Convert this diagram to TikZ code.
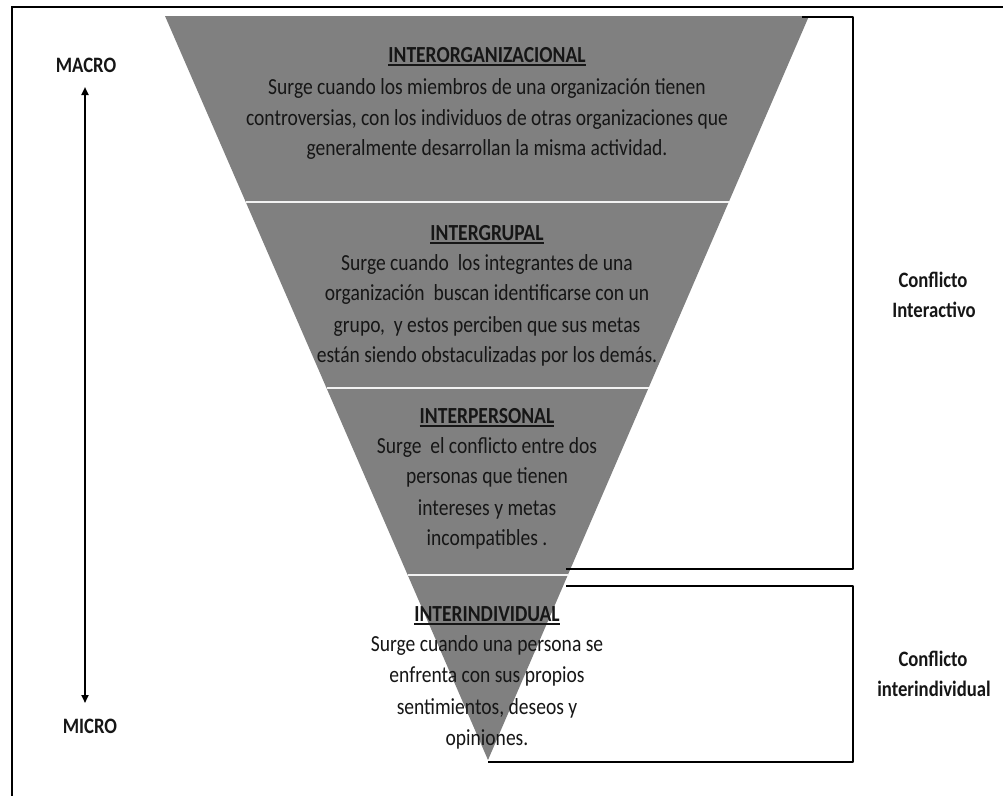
\documentclass[tikz,border=0pt]{standalone}
\usepackage{fontspec}
\setmainfont{Carlito}[FakeStretch=0.85]
\usetikzlibrary{calc,arrows.meta}
\definecolor{tri}{RGB}{128,128,128}
\definecolor{ink}{RGB}{22,22,22}
\tikzset{
  body/.style={anchor=base, inner sep=0pt, text=ink, font=\fontsize{23}{31}\selectfont},
  ttl/.style={anchor=base, inner sep=0pt, text=ink, font=\fontsize{23}{31}\selectfont\bfseries},
  side/.style={anchor=base, inner sep=0pt, text=ink, font=\fontsize{22}{30}\selectfont\bfseries},
  uline/.style={draw=ink, line width=1.7pt},
  divider/.style={draw=white!90!tri, line width=2pt},
  bracket/.style={draw=black, line width=2.8pt, line join=round},
  frame/.style={draw=black, line width=2.5pt},
  scalearrow/.style={draw=black, line width=2pt, {Triangle[length=8pt,width=7pt]}-{Triangle[length=8pt,width=7pt]}},
}
\begin{document}
\begin{tikzpicture}[x=1pt,y=-1pt]
\useasboundingbox (0,0) rectangle (1003,795);
\fill[white] (0,0) rectangle (1003,795);
% outer frame (runs off the right and bottom edges)
\coordinate (fb) at (12,805);
\coordinate (fc) at (12,7);
\coordinate (fr) at (1012,7);
\draw[frame] (fb) -- (fc) -- (fr);
% inverted triangle
\coordinate (tl) at (165,16);
\coordinate (tr) at (809,16);
\coordinate (ap) at (488,760);
\fill[tri] (tl) -- (tr) -- (ap) -- cycle;
\draw[divider] ($(tl)!0.25!(ap)$) -- ($(tr)!0.25!(ap)$);
\draw[divider] ($(tl)!0.5!(ap)$) -- ($(tr)!0.5!(ap)$);
\draw[divider] ($(tl)!0.7513!(ap)$) -- ($(tr)!0.7513!(ap)$);
% brackets
\coordinate (b1a) at (802,17);
\coordinate (b1b) at (853,17);
\coordinate (b1c) at (853,569);
\coordinate (b1d) at (566,569);
\draw[bracket] (b1a) -- (b1b) -- (b1c) -- (b1d);
\coordinate (b2a) at (566,586);
\coordinate (b2b) at (853,586);
\coordinate (b2c) at (853,762);
\coordinate (b2d) at (488,762);
\draw[bracket] (b2a) -- (b2b) -- (b2c) -- (b2d);
% MACRO / MICRO scale
\node[side] (macro) at (86,72) {MACRO};
\node[side] (micro) at (90,733) {MICRO};
\coordinate (aT) at (85,87);
\coordinate (aB) at (85,703);
\draw[scalearrow] (aT) -- (aB);
% side labels
\node[side] (ci1) at (933,287) {Conflicto};
\node[side] (ci2) at (934,317) {Interactivo};
\node[side] (cj1) at (933,666) {Conflicto};
\node[side] (cj2) at (934,696) {interindividual};
% INTERORGANIZACIONAL
\node[ttl] (t1) at (487,62) {INTERORGANIZACIONAL};
\draw[uline] ([yshift=-3pt]t1.base west) -- ([yshift=-3pt]t1.base east);
\node[body] (o1) at (487,94) {Surge cuando los miembros de una organización tienen};
\node[body] (o2) at (487,125) {controversias, con los individuos de otras organizaciones que};
\node[body] (o3) at (487,155) {generalmente desarrollan la misma actividad.};
% INTERGRUPAL
\node[ttl] (t2) at (487,240) {INTERGRUPAL};
\draw[uline] ([yshift=-3pt]t2.base west) -- ([yshift=-3pt]t2.base east);
\node[body] (g1) at (487,270) {Surge cuando\ \ los integrantes de una};
\node[body] (g2) at (487,300) {organización\ \ buscan identificarse con un};
\node[body] (g3) at (487,332) {grupo,\ \ y estos perciben que sus metas};
\node[body] (g4) at (487,362) {están siendo obstaculizadas por los demás.};
% INTERPERSONAL
\node[ttl] (t3) at (487,423) {INTERPERSONAL};
\draw[uline] ([yshift=-3pt]t3.base west) -- ([yshift=-3pt]t3.base east);
\node[body] (p1) at (487,453) {Surge\ \ el conflicto entre dos};
\node[body] (p2) at (487,483) {personas que tienen};
\node[body] (p3) at (487,515) {intereses y metas};
\node[body] (p4) at (487,545) {incompatibles .};
% INTERINDIVIDUAL
\node[ttl] (t4) at (487,621) {INTERINDIVIDUAL};
\draw[uline] ([yshift=-3pt]t4.base west) -- ([yshift=-3pt]t4.base east);
\node[body] (i1) at (487,651) {Surge cuando una persona se};
\node[body] (i2) at (487,682) {enfrenta con sus propios};
\node[body] (i3) at (487,714) {sentimientos, deseos y};
\node[body] (i4) at (487,745) {opiniones.};
\end{tikzpicture}
\end{document}
